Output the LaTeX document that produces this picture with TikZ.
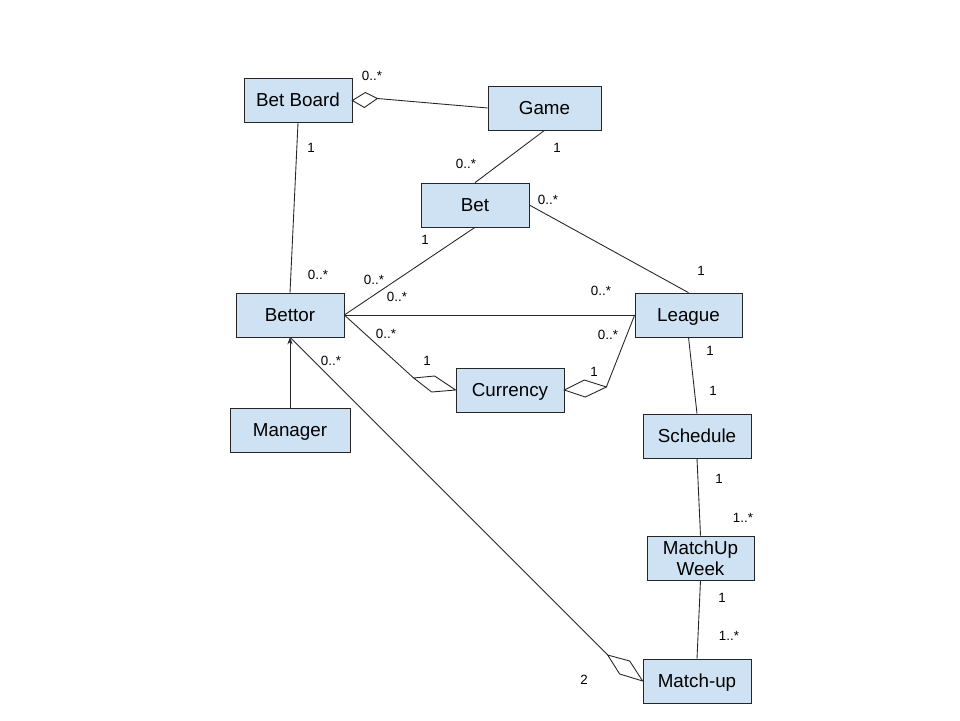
\documentclass[tikz,border=0pt]{standalone}
\usepackage{fontspec}
\setmainfont{Liberation Sans}
\usetikzlibrary{arrows.meta}
\definecolor{boxblue}{HTML}{CFE2F3}
\begin{document}
\begin{tikzpicture}[x=0.02cm, y=-0.02cm,
    classe/.style={draw=black!85, fill=boxblue, minimum width=2.16cm, minimum height=0.88cm,
                   inner sep=1pt, align=center, font=\fontsize{10.7}{12}\selectfont},
    riga/.style={classe, text height=0.72em, text depth=0pt},
    molt/.style={font=\fontsize{7.6}{8}\selectfont, inner sep=0pt},
    linea/.style={draw=black!85, line width=0.5pt},
    diam/.style={draw=black!85, fill=white, line width=0.5pt, line join=miter}]
    \useasboundingbox (0,0) rectangle (960,720);

    % Classi
    \node[riga] (betboard) at (298,100.5) {Bet Board};
    \node[riga, minimum width=2.26cm] (game) at (544.5,108) {Game};
    \node[riga] (bet) at (475,205) {Bet};
    \node[riga] (bettor) at (290,315) {Bettor};
    \node[riga, minimum width=2.14cm] (league) at (688.5,315) {League};
    \node[riga] (currency) at (510,390) {Currency};
    \node[riga, minimum width=2.4cm] (manager) at (290,430) {Manager};
    \node[riga] (schedule) at (697,436) {Schedule};
    \node[classe, minimum width=2.14cm] (week) at (700.5,558) {MatchUp\\[0pt]Week};
    \node[riga] (matchup) at (697,681) {Match-up};

    % Aggregazioni (rombi)
    \draw[diam] (betboard.east) -- ++(13,-8) -- ++(12,6) coordinate (bbdia) -- ++(-13,9) -- cycle;
    \draw[diam] (currency.west) -- ++(-21,-14) -- ++(-21,2) coordinate (curdiaL) -- ++(18,14) -- cycle;
    \draw[diam] (currency.east) -- ++(20,-10) -- ++(22,7) coordinate (curdiaR) -- ++(-21,10) -- cycle;
    \draw[diam] (matchup.west) -- ++(-13,-20) -- ++(-22,-6) coordinate (mudia) -- ++(12,19) -- cycle;

    % Associazioni
    \draw[linea] (bbdia) -- (game.west);
    \draw[linea] (betboard.south) -- (bettor.north);
    \draw[linea] (game.south) -- (bet.north);
    \draw[linea] (bet.east) -- (league.north);
    \draw[linea] (bet.south) -- (bettor.east);
    \draw[linea] (bettor.east) -- (league.west);
    \draw[linea] (bettor.east) -- (curdiaL);
    \draw[linea] (league.west) -- (curdiaR);
    \draw[linea] (league.south) -- (schedule.north);
    \draw[linea] (schedule.south) -- (week.north);
    \draw[linea] (week.south) -- (matchup.north);
    \draw[linea] (mudia) -- (bettor.south);
    \draw[linea, -{Stealth[length=4pt, width=3pt]}] (manager.north) -- (bettor.south);

    % Molteplicita
    \node[molt] (m1) at (372,76) {0..*};
    \node[molt] (m2) at (311,148) {1};
    \node[molt] (m3) at (466,164) {0..*};
    \node[molt] (m4) at (557,148) {1};
    \node[molt] (m5) at (548,200) {0..*};
    \node[molt] (m6) at (425,240) {1};
    \node[molt] (m7) at (318,275) {0..*};
    \node[molt] (m8) at (374,280) {0..*};
    \node[molt] (m9) at (397,297) {0..*};
    \node[molt] (m10) at (601,291) {0..*};
    \node[molt] (m11) at (701,271) {1};
    \node[molt] (m12) at (386,334) {0..*};
    \node[molt] (m13) at (331,361) {0..*};
    \node[molt] (m14) at (427,361) {1};
    \node[molt] (m15) at (608,335) {0..*};
    \node[molt] (m16) at (594,372) {1};
    \node[molt] (m17) at (710,351) {1};
    \node[molt] (m18) at (713,391) {1};
    \node[molt] (m19) at (719,479) {1};
    \node[molt] (m20) at (743,518) {1..*};
    \node[molt] (m21) at (722,598) {1};
    \node[molt] (m22) at (729,636) {1..*};
    \node[molt] (m23) at (584,680) {2};

\end{tikzpicture}
\end{document}
